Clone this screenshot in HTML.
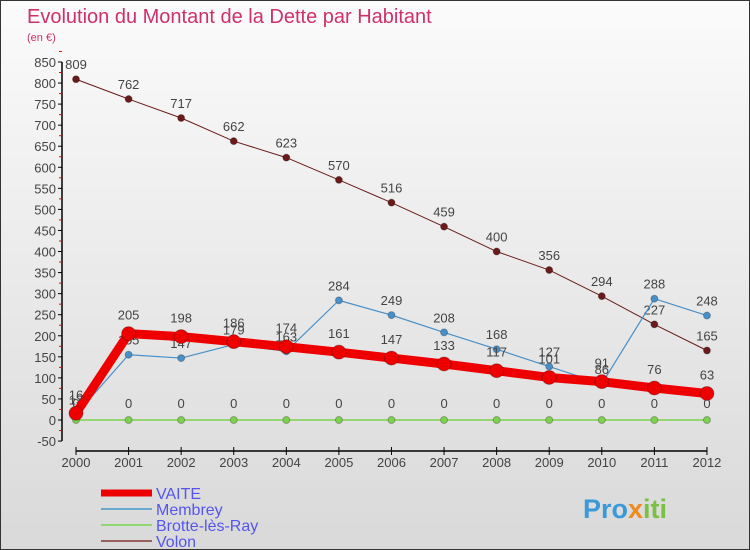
<!DOCTYPE html>
<html><head><meta charset="utf-8"><style>
body{margin:0}
#c{position:relative;width:750px;height:550px;background:linear-gradient(#fbfbfb,#d9d9d9);border:1px solid #333;box-sizing:border-box;font-family:"Liberation Sans",sans-serif;overflow:hidden}
text{font-family:"Liberation Sans",sans-serif}
</style></head><body>
<div id="c">
<svg id="s" width="750" height="550">
<text x="26" y="22" font-size="20" fill="#d0306a">Evolution du Montant de la Dette par Habitant</text>
<text x="26" y="40" font-size="11" fill="#d0306a">(en €)</text>
<g id="g"></g>
<text x="582" y="517" font-size="27" font-weight="bold" fill="#3a9ad8">Pro<tspan fill="#f08a1c">x</tspan><tspan fill="#7ac143">iti</tspan></text>
</svg>
</div>
<script>
const years=["2000","2001","2002","2003","2004","2005","2006","2007","2008","2009","2010","2011","2012"];
const vaite=[16,205,198,186,174,161,147,133,117,101,91,76,63];
const membrey=[13,155,147,179,163,284,249,208,168,127,86,288,248];
const brotte=[0,0,0,0,0,0,0,0,0,0,0,0,0];
const volon=[809,762,717,662,623,570,516,459,400,356,294,227,165];
const yTicks=[-50,0,50,100,150,200,250,300,350,400,450,500,550,600,650,700,750,800,850];
const names=["VAITE","Membrey","Brotte-lès-Ray","Volon"];
const NS="http://www.w3.org/2000/svg";
const g=document.getElementById('g');
const X=i=>75+i*52.58;
const Y=v=>419-v*0.4212;
function el(t,a,p){const e=document.createElementNS(NS,t);for(const k in a)e.setAttribute(k,a[k]);(p||g).appendChild(e);return e;}
let ax=el('line',{x1:61,y1:Y(850),x2:61,y2:Y(-50),stroke:'#000','stroke-width':1.5});


yTicks.forEach(v=>{
 el('line',{x1:57,x2:61,y1:Y(v),y2:Y(v),stroke:'#000'});
 el('line',{x1:58,x2:61,y1:Y(v+25),y2:Y(v+25),stroke:'#e00'});
 const t=el('text',{x:55,y:Y(v)+5,'font-size':13,'text-anchor':'end',fill:'#444'});t.textContent=v;
 
 
});
let xa=el('line',{x1:X(0),y1:450,x2:X(12),y2:450,stroke:'#000','stroke-width':1.5});


years.forEach((y,i)=>{
 el('line',{x1:X(i),x2:X(i),y1:446,y2:454,stroke:'#000'});
 const t=el('text',{x:X(i),y:466,'font-size':13,'text-anchor':'middle',fill:'#444'});t.textContent=y;
 
 
});
function series(d,col,w,r,name,lab){
 const p=el('polyline',{points:d.map((v,i)=>X(i)+','+Y(v)).join(' '),fill:'none',stroke:col,'stroke-width':w,'stroke-linejoin':'round'});
 
 
 d.forEach((v,i)=>{
  const c=el('circle',{cx:X(i),cy:Y(v),r:r,fill:col,stroke:'rgba(0,0,0,0.25)'});
  
  
  if(lab){const t=el('text',{x:X(i),y:Y(v)-lab,'font-size':13,'text-anchor':'middle',fill:'#444'});t.textContent=v;
  
  }
 });
}
series(brotte,'#7ed050',1.5,3.5,'brotte',12);
series(volon,'#6b1a1a',1,3.5,'volon',10);
series(membrey,'#4a90c8',1.2,3.5,'membrey',10);
series(vaite,'#ee0000',9,7,'vaite',14);
const lc=['#ee0000','#6aa8d0','#90d870','#9a6060'],lw=[7,2,2,2];
names.forEach((n,i)=>{
 const y=492+i*16;
 const l=el('line',{x1:100,x2:151,y1:y,y2:y,stroke:lc[i],'stroke-width':lw[i]});
 
 
 const t=el('text',{x:155,y:y+6,'font-size':16,fill:'#5555ee'});t.textContent=n;
 
 
});
</script>
</body></html>
